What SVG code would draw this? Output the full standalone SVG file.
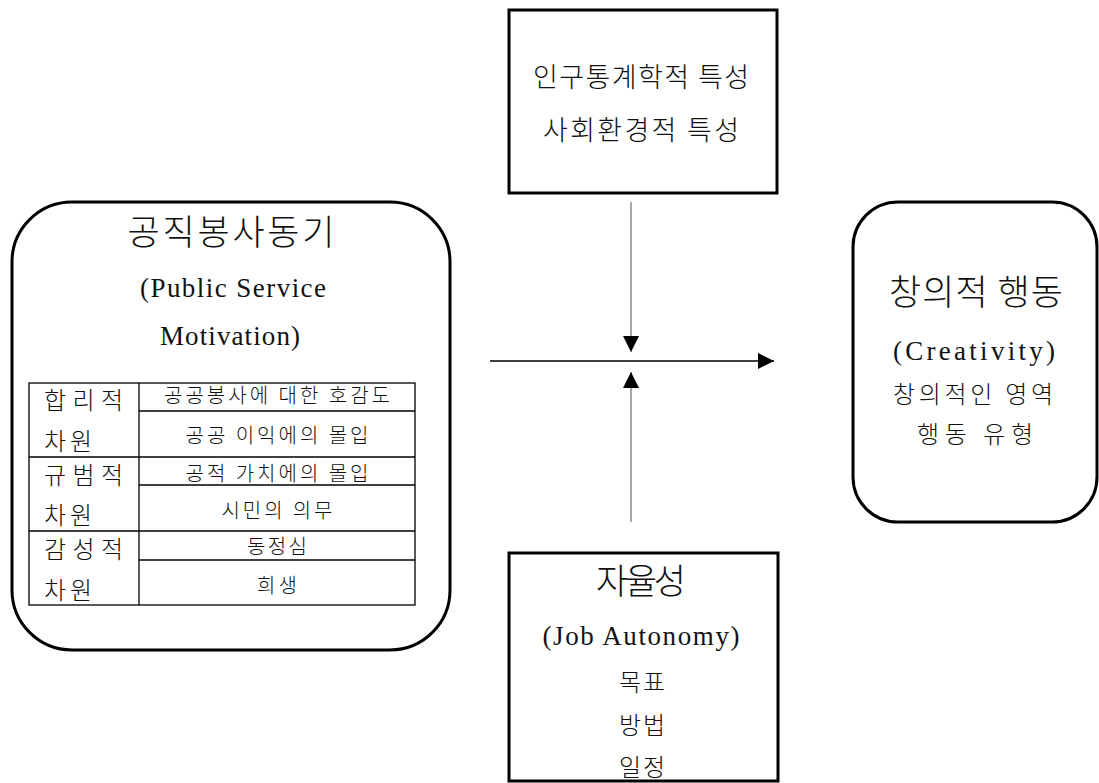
<svg xmlns="http://www.w3.org/2000/svg" width="1099" height="783" viewBox="0 0 1099 783">
<defs>
<style>
.box{fill:#fff;stroke:#000;stroke-width:3}
.tbl{fill:none;stroke:#000;stroke-width:1.3}
.t{font-family:"Noto Sans CJK KR","Liberation Serif",sans-serif;fill:#111;text-anchor:middle;font-weight:300}
.l{font-family:"Noto Sans CJK KR","Liberation Serif",sans-serif;fill:#111;font-weight:300}
.e{font-family:"Liberation Serif","Times New Roman","DejaVu Serif",serif;fill:#111;text-anchor:middle}
.ln{stroke:#777;stroke-width:1.3;fill:none}
.lnb{stroke:#000;stroke-width:1.3;fill:none}
</style>
<marker id="ah" markerWidth="16" markerHeight="16" viewBox="0 0 16 16" refX="16" refY="8" orient="auto" markerUnits="userSpaceOnUse">
<path d="M0,0 L16,8 L0,16 Z" fill="#000"/>
</marker>
</defs>
<rect width="1099" height="783" fill="#fff"/>

<g id="connectors">
<line class="ln" x1="631" y1="202" x2="631" y2="352" marker-end="url(#ah)"/>
<line class="ln" x1="631" y1="522" x2="631" y2="372" marker-end="url(#ah)"/>
<line class="lnb" x1="490" y1="361" x2="774" y2="361" marker-end="url(#ah)"/>
</g>

<g id="psm">
<rect class="box" x="12" y="202" width="438" height="448" rx="60" ry="60"/>
<text class="t" x="231" y="245" font-size="35" textLength="207">공직봉사동기</text>
<text class="e" x="233" y="297" font-size="27" textLength="186">(Public Service</text>
<text class="e" x="230" y="345" font-size="27" textLength="140">Motivation)</text>
<g id="psm-table">
<rect class="tbl" x="29" y="383" width="386" height="222"/>
<line class="tbl" x1="139" y1="383" x2="139" y2="605"/>
<line class="tbl" x1="29" y1="457" x2="415" y2="457"/>
<line class="tbl" x1="29" y1="531" x2="415" y2="531"/>
<line class="tbl" x1="139" y1="411" x2="415" y2="411"/>
<line class="tbl" x1="139" y1="485" x2="415" y2="485"/>
<line class="tbl" x1="139" y1="560" x2="415" y2="560"/>
<text class="l" x="44" y="409" font-size="24" textLength="79">합 리 적</text>
<text class="l" x="44" y="450" font-size="24" textLength="48">차원</text>
<text class="l" x="44" y="484" font-size="24" textLength="79">규 범 적</text>
<text class="l" x="44" y="524" font-size="24" textLength="48">차원</text>
<text class="l" x="44" y="558" font-size="24" textLength="79">감 성 적</text>
<text class="l" x="44" y="599" font-size="24" textLength="48">차원</text>
<text class="t" x="277" y="403" font-size="20" textLength="226">공공봉사에 대한 호감도</text>
<text class="t" x="277" y="443" font-size="20" textLength="183">공공 이익에의 몰입</text>
<text class="t" x="277" y="481" font-size="20" textLength="183">공적 가치에의 몰입</text>
<text class="t" x="277" y="518" font-size="20" textLength="111">시민의 의무</text>
<text class="t" x="277" y="554" font-size="20" textLength="60">동정심</text>
<text class="t" x="277" y="593" font-size="20" textLength="40">희생</text>
</g>
</g>

<g id="demo">
<rect class="box" x="509" y="10" width="268" height="183"/>
<text class="t" x="641" y="87" font-size="27" textLength="216">인구통계학적 특성</text>
<text class="t" x="641" y="140" font-size="27" textLength="196">사회환경적 특성</text>
</g>

<g id="autonomy">
<rect class="box" x="509" y="553" width="269" height="228"/>
<text class="t" x="641" y="594" font-size="35" textLength="90">자율성</text>
<text class="e" x="641" y="645" font-size="27" textLength="197">(Job Autonomy)</text>
<text class="t" x="642" y="691" font-size="24" textLength="46">목표</text>
<text class="t" x="642" y="734" font-size="24" textLength="46">방법</text>
<text class="t" x="642" y="776" font-size="24" textLength="46">일정</text>
</g>

<g id="creativity">
<rect class="box" x="853" y="202" width="244" height="320" rx="45" ry="45"/>
<text class="t" x="976" y="305" font-size="35" textLength="174">창의적 행동</text>
<text class="e" x="974" y="360" font-size="27" textLength="162">(Creativity)</text>
<text class="t" x="973" y="403" font-size="24" textLength="160">창의적인 영역</text>
<text class="t" x="975" y="443" font-size="24" textLength="116">행동 유형</text>
</g>
</svg>
